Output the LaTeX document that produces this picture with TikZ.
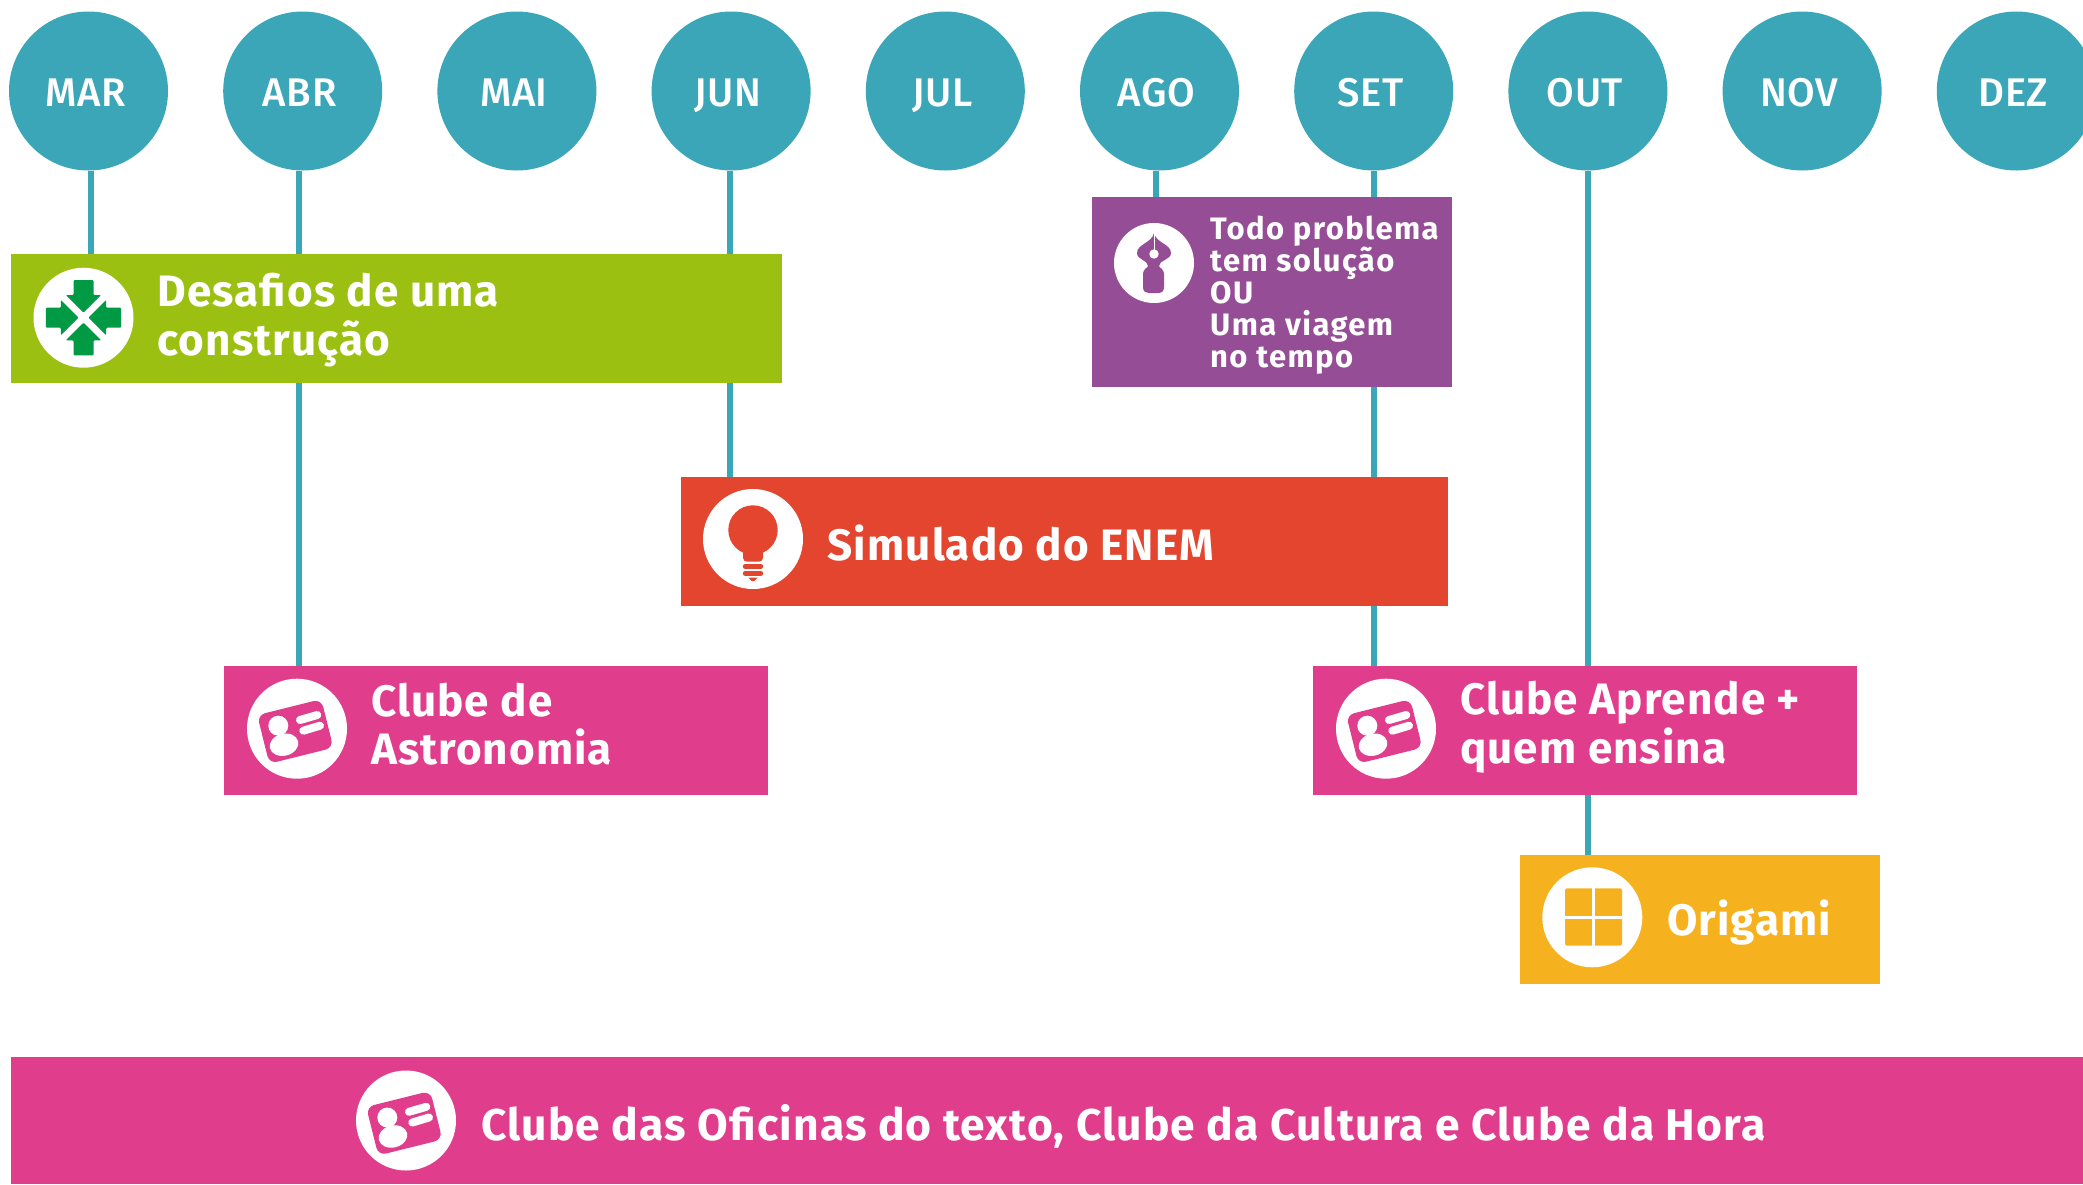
\documentclass[tikz,border=0pt]{standalone}
\usepackage{fontspec}
\setmainfont{Fira Sans}
\newfontfamily\monthfont[LetterSpace=1.5]{Fira Sans Medium}
\newfontfamily\boxfont[LetterSpace=2.5,BoldFont={Fira Sans Bold}]{Fira Sans Bold}
\newfontfamily\smallboxfont[LetterSpace=4.5]{Fira Sans Bold}
\usetikzlibrary{backgrounds}
\definecolor{tealline}{HTML}{3BA6B8}
\definecolor{limebox}{HTML}{9BC011}
\definecolor{greenicon}{HTML}{009A44}
\definecolor{purplebox}{HTML}{954E96}
\definecolor{redbox}{HTML}{E3452E}
\definecolor{pinkbox}{HTML}{E03E8C}
\definecolor{orangebox}{HTML}{F6B11E}
\tikzset{
  monthnode/.style={
    circle,
    fill=tealline,
    text=white,
    minimum size=159pt,
    inner sep=0pt,
    text height=30pt,
    text depth=0pt,
    font=\monthfont\fontsize{40}{40}\selectfont},
  boxnode/.style={
    rectangle,
    anchor=north west,
    minimum height=129pt,
    inner sep=0pt},
  iconnode/.style={
    circle,
    fill=white,
    minimum size=100pt,
    inner sep=0pt},
  boxtext/.style={
    anchor=west,
    align=left,
    text=white,
    inner sep=0pt,
    font=\boxfont\fontsize{44}{48.5}\selectfont},
  timeline/.style={draw=tealline, line width=6pt},
  arrowpart/.pic={
    \fill[greenicon,rounded corners=1pt] (-10,-37.7) -- (10,-37.7) -- (10,-22.7) -- (17.7,-22.7) -- (0,-5) -- (-17.7,-22.7) -- (-10,-22.7) -- cycle;
  },
  arrowsicon/.pic={
    \foreach \a in {0,90,180,270} {\pic[rotate=\a] {arrowpart};}
  },
  cardicon/.pic={
    \begin{scope}[shift={(-1.7,2.7)},rotate=14]
      \fill[pinkbox,rounded corners=8pt] (-33,-25) rectangle (33,25);
    \end{scope}
    \fill[white] (-18.7,-3) circle (10pt);
    \fill[white,rotate around={14:(-13,16)}] (-13,16) ellipse (14.5pt and 11pt);
    \draw[white,line width=8pt,line cap=round] (3,-8.7) -- (20.3,-13.7);
    \draw[white,line width=8pt,line cap=round] (6.3,2) -- (23,-3);
  },
}
\def\clubcard{pic {cardicon}}
\begin{document}
\begin{tikzpicture}[x=1pt,y=-1pt]
	\useasboundingbox (0,0) rectangle (2083,1184);
	\clip (0,0) rectangle (2083,1184);
	% months
	\foreach \m/\t [count=\i from 0] in {mar/MAR,abr/ABR,mai/MAI,jun/JUN,jul/JUL,ago/AGO,set/SET,out/OUT,nov/NOV,dez/DEZ}
		\node[monthnode] (\m) at ({88.5+214.2*\i},91) {\kern-6pt\t};

	% boxes
	\node[boxnode,fill=limebox,minimum width=771pt] (desafios) at (11,254) {};
	\node[boxnode,fill=purplebox,minimum width=360pt,minimum height=190pt] (problema) at (1092,197) {};
	\node[boxnode,fill=redbox,minimum width=767pt] (simulado) at (681,477) {};
	\node[boxnode,fill=pinkbox,minimum width=544pt] (astronomia) at (224,666) {};
	\node[boxnode,fill=pinkbox,minimum width=544pt] (aprende) at (1313,666) {};
	\node[boxnode,fill=orangebox,minimum width=360pt] (origami) at (1520,855) {};
	\node[boxnode,fill=pinkbox,minimum width=2072pt,minimum height=127pt] (oficinas) at (11,1057) {};

	% icons
	\node[iconnode] (desafiosicon) at (83.5,317.7) {};
	\path (desafiosicon.center) pic {arrowsicon};
	\node[iconnode,minimum size=80pt] (problemaicon) at (1154,263) {};
	\fill[purplebox,shift={(1154,263)}] (0,-30) .. controls (-2,-20) and (-17,-19) .. (-17,-10) .. controls (-17,-3) and (-6,-3) .. (-6,3) .. controls (-6,5) and (-11,5) .. (-11,12) -- (-11,24) .. controls (-11,29) and (-8,30) .. (-5,30) -- (4,30) .. controls (8,30) and (10,28) .. (10,24) -- (10,12) .. controls (10,5) and (5,5) .. (5,3) .. controls (5,-3) and (17,-3) .. (17,-10) .. controls (17,-19) and (2,-20) .. (0,-30) -- cycle;
	\fill[white,shift={(1154,263)}] (0,-9) circle (4.7pt);
	\draw[white,shift={(1154,263)},line width=1pt] (0,-30) -- (0,-9);
	\node[iconnode] (simuladoicon) at (753,539) {};
	\begin{scope}[shift={(753,539)},redbox]
		\fill (0,-9) circle (24.7pt);
		\fill[rounded corners=4pt] (-10,8) -- (10,8) -- (10,22.7) -- (-10,22.7) -- cycle;
		\draw[line width=5.5pt,line cap=round] (-7.5,27.3) -- (7.5,27.3);
		\draw[line width=5.5pt,line cap=round] (-7.5,34.3) -- (7.5,34.3);
		\fill (-4.5,38.5) -- (4.5,38.5) -- (1.5,42) -- (-1.5,42) -- cycle;
	\end{scope}
	\node[iconnode] (astronomiaicon) at (297,728.7) {};
	\path (astronomiaicon.center) \clubcard;
	\node[iconnode] (aprendeicon) at (1386,728.7) {};
	\path (aprendeicon.center) \clubcard;
	\node[iconnode] (origamiicon) at (1592.3,917.3) {};
	\begin{scope}[shift={(1592.3,917.3)}]
		\fill[orangebox,rounded corners=2pt] (-27.3,-29) rectangle (29.7,28.3);
		\fill[white] (0,-29) rectangle (2.7,28.3);
		\fill[white] (-27.3,-1.3) rectangle (29.7,1.3);
	\end{scope}
	\node[iconnode] (oficinasicon) at (406,1120.5) {};
	\path (oficinasicon.center) \clubcard;

	% texts
	\node[boxtext] (desafiostext) at (157.5,320) {Desafios de uma\\construção};
	\node[boxtext,font=\smallboxfont\fontsize{31}{32}\selectfont] (problematext) at (1210,295) {Todo problema\\tem solução\\OU\\Uma viagem\\no tempo};
	\node[boxtext] (simuladotext) at (827.5,543) {Simulado do ENEM};
	\node[boxtext] (astronomiatext) at (371,724) {Clube de\\Astronomia};
	\node[boxtext] (aprendetext) at (1460,727) {Clube Aprende +\\quem ensina};
	\node[boxtext] (origamitext) at (1667,923) {Origami};
	\node[boxtext,font=\boxfont\fontsize{44.4}{48.5}\selectfont] (oficinastext) at (481,1126) {Clube das Oficinas do texto, Clube da Cultura e Clube da Hora};

	\begin{scope}[on background layer]
		\draw[timeline] ([xshift=2pt]mar.south) -- ([xshift=2pt]mar.south |- desafios.north);
		\draw[timeline] ([xshift=-4pt]abr.south) -- ([xshift=-4pt]abr.south |- astronomia.north);
		\draw[timeline] ([xshift=-1pt]jun.south) -- ([xshift=-1pt]jun.south |- simulado.north);
		\draw[timeline] ([xshift=-4pt]ago.south) -- ([xshift=-4pt]ago.south |- problema.north);
		\draw[timeline] (set.south) -- (set.south |- aprende.north);
		\draw[timeline] (out.south) -- (out.south |- origami.north);
	\end{scope}
\end{tikzpicture}
\end{document}
